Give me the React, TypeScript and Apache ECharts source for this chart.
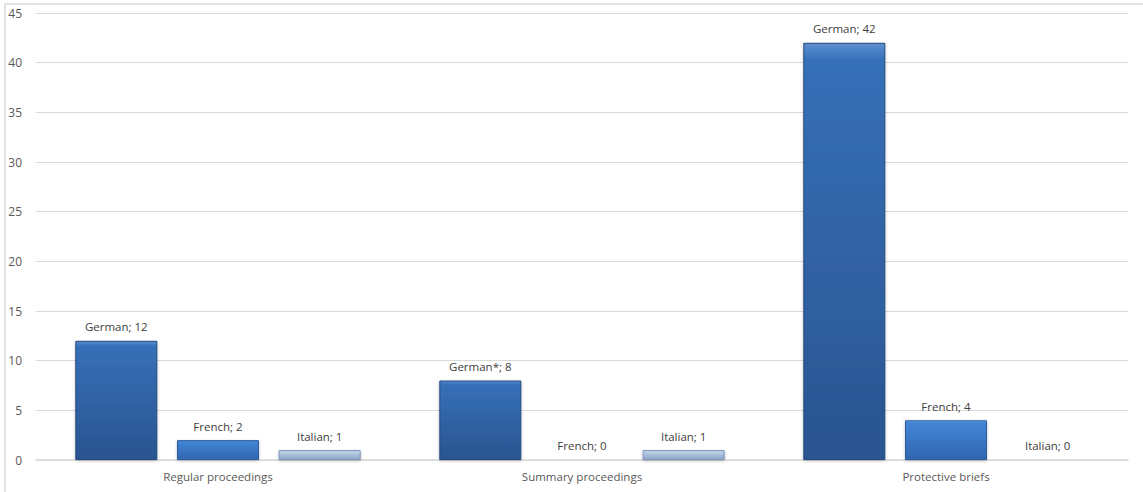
import React, { useEffect, useRef } from "react";
import * as echarts from "echarts";

const categories = ["Regular proceedings", "Summary proceedings", "Protective briefs"];
const germanValues = [12, 8, 42];
const germanNotes = ["", "*", ""];
const frenchValues = [2, 0, 4];
const italianValues = [1, 1, 0];
const yTicks = { min: 0, max: 45, interval: 5 };

const FONT = "'Open Sans', 'Noto Sans', sans-serif";

function grad(top: string, mid: string, bottom: string) {
  return new echarts.graphic.LinearGradient(0, 0, 0, 1, [
    { offset: 0, color: top },
    { offset: 0.04, color: mid },
    { offset: 1, color: bottom },
  ]);
}

export default function App() {
  const ref = useRef<HTMLDivElement>(null);
  useEffect(() => {
    document.body.style.margin = "0";
    const chart = echarts.init(ref.current!, null, { renderer: "svg" });
    const labelBase = {
      show: true,
      position: "top" as const,
      distance: 8,
      fontFamily: FONT,
      fontSize: 11.5,
      color: "#404040",
    };
    chart.setOption({
      animation: false,
      backgroundColor: "#ffffff",
      graphic: [
        {
          type: "rect",
          shape: { x: 5, y: 4, width: 1200, height: 600 },
          style: { fill: "none", stroke: "#d9d9d9", lineWidth: 1.5 },
          silent: true,
        },
      ],
      grid: { left: 36, right: 15, top: 13, bottom: 32 },
      xAxis: {
        type: "category",
        data: categories,
        axisLine: { lineStyle: { color: "#d9d9d9", width: 1.5 } },
        axisTick: { show: false },
        axisLabel: { fontFamily: FONT, fontSize: 11.5, color: "#595959", margin: 10 },
      },
      yAxis: {
        type: "value",
        min: yTicks.min,
        max: yTicks.max,
        interval: yTicks.interval,
        axisLine: { show: false },
        axisTick: { show: false },
        splitLine: { lineStyle: { color: "#d9d9d9", width: 1 } },
        axisLabel: { fontFamily: FONT, fontSize: 12, color: "#595959", margin: 14 },
      },
      series: [
        {
          name: "German",
          type: "bar",
          barWidth: 82,
          barGap: "24%",
          data: germanValues.map((v, i) => ({
            value: v,
            label: { formatter: `German${germanNotes[i]}; ${v}` },
          })),
          label: { ...labelBase, formatter: (p: any) => `${p.seriesName}; ${p.value}` },
          itemStyle: {
            color: grad("#5d8fd0", "#3670b8", "#2a5490"),
            borderColor: "#24497e",
            borderWidth: 1,
            shadowColor: "rgba(0,0,0,0.25)",
            shadowBlur: 3,
            shadowOffsetY: 1,
          },
        },
        {
          name: "French",
          type: "bar",
          barWidth: 82,
          barGap: "24%",
          data: frenchValues,
          label: { ...labelBase, formatter: (p: any) => `${p.seriesName}; ${p.value}` },
          itemStyle: {
            color: grad("#7aaee8", "#4385d6", "#2f66b0"),
            borderColor: "#2a5c9e",
            borderWidth: 1,
            shadowColor: "rgba(0,0,0,0.25)",
            shadowBlur: 3,
            shadowOffsetY: 1,
          },
        },
        {
          name: "Italian",
          type: "bar",
          barWidth: 82,
          barGap: "24%",
          data: italianValues,
          label: { ...labelBase, formatter: (p: any) => `${p.seriesName}; ${p.value}` },
          itemStyle: {
            color: grad("#e4ecf7", "#c5d4ea", "#8aa4c8"),
            borderColor: "#7d96bb",
            borderWidth: 1,
            shadowColor: "rgba(0,0,0,0.25)",
            shadowBlur: 3,
            shadowOffsetY: 1,
          },
        },
      ],
    });
    return () => chart.dispose();
  }, []);
  return <div ref={ref} style={{ width: 1143, height: 492 }} />;
}
